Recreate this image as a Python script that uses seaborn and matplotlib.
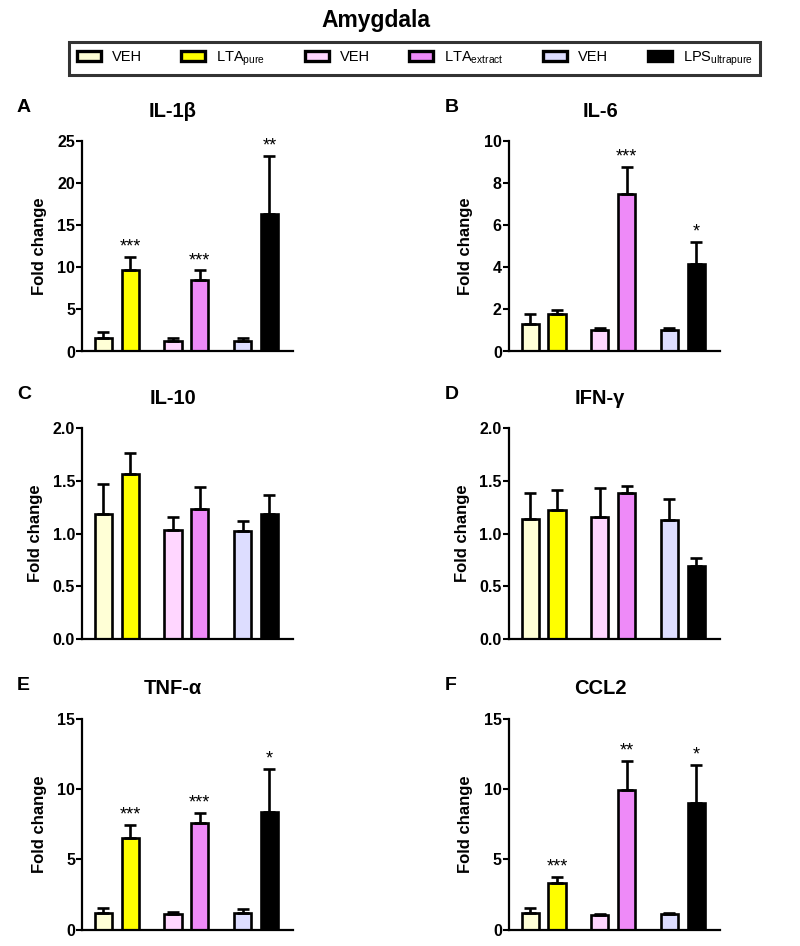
import numpy as np
import pandas as pd
import matplotlib
matplotlib.use("Agg")
import matplotlib.pyplot as plt
import seaborn as sns
from matplotlib.patches import Patch

# bar order: VEH, LTA pure, VEH, LTA extract, VEH, LPS ultrapure
conditions = ["VEH", "LTA$_{\\mathregular{pure}}$", "VEH", "LTA$_{\\mathregular{extract}}$",
              "VEH", "LPS$_{\\mathregular{ultrapure}}$"]
groups = ["pure", "pure", "extract", "extract", "ultrapure", "ultrapure"]
roles = ["VEH", "treated", "VEH", "treated", "VEH", "treated"]
colors = ["#FFFFD6", "#FFFF00", "#FFD6FF", "#EE8AF8", "#DDDDFF", "#000000"]

panels = ["A", "B", "C", "D", "E", "F"]
cytokines = ["IL-1\u03b2", "IL-6", "IL-10", "IFN-\u03b3", "TNF-\u03b1", "CCL2"]

il1b_mean = [1.58, 9.63, 1.23, 8.5, 1.23, 16.36]
il1b_sem = [0.68, 1.57, 0.43, 1.13, 0.39, 6.84]
il1b_sig = ["", "***", "", "***", "", "**"]

il6_mean = [1.32, 1.79, 1.03, 7.46, 1.03, 4.14]
il6_sem = [0.47, 0.19, 0.11, 1.29, 0.10, 1.06]
il6_sig = ["", "", "", "***", "", "*"]

il10_mean = [1.19, 1.57, 1.035, 1.23, 1.025, 1.19]
il10_sem = [0.28, 0.20, 0.125, 0.21, 0.095, 0.18]
il10_sig = ["", "", "", "", "", ""]

ifng_mean = [1.14, 1.225, 1.155, 1.384, 1.127, 0.69]
ifng_sem = [0.25, 0.19, 0.275, 0.066, 0.20, 0.08]
ifng_sig = ["", "", "", "", "", ""]

tnfa_mean = [1.21, 6.5, 1.07, 7.62, 1.16, 8.4]
tnfa_sem = [0.31, 0.93, 0.21, 0.69, 0.29, 3.02]
tnfa_sig = ["", "***", "", "***", "", "*"]

ccl2_mean = [1.21, 3.32, 1.04, 9.95, 1.07, 9.02]
ccl2_sem = [0.31, 0.41, 0.10, 2.04, 0.12, 2.73]
ccl2_sig = ["", "***", "", "**", "", "*"]

means = [il1b_mean, il6_mean, il10_mean, ifng_mean, tnfa_mean, ccl2_mean]
sems = [il1b_sem, il6_sem, il10_sem, ifng_sem, tnfa_sem, ccl2_sem]
sigs = [il1b_sig, il6_sig, il10_sig, ifng_sig, tnfa_sig, ccl2_sig]
yticks = [[0, 5, 10, 15, 20, 25], [0, 2, 4, 6, 8, 10], [0, 0.5, 1.0, 1.5, 2.0],
          [0, 0.5, 1.0, 1.5, 2.0], [0, 5, 10, 15], [0, 5, 10, 15]]

sns.set_style("ticks")
plt.rcParams["font.family"] = ["Liberation Sans", "DejaVu Sans"]
plt.rcParams["mathtext.fontset"] = "custom"
plt.rcParams["mathtext.rm"] = "Liberation Sans"
for key in ("text.color", "axes.labelcolor", "xtick.color", "ytick.color", "axes.edgecolor"):
    plt.rcParams[key] = "black"

W, H = 800, 946
fig = plt.figure(figsize=(W / 100, H / 100), dpi=100)

col_left = [82, 508.7]
row_top = [141, 428.3, 719]
ax_w, ax_h = 211, 210.5
letter_base = [112, 399, 690]
title_base = [117, 404, 694]
ylab_x = [[-35, -35.7], [-39, -38.7], [-35, -35.7]]

fig.text(376 / W, 1 - 27 / H, "Amygdala", ha="center", va="baseline",
         fontsize=16.5, fontweight="bold")

for k in range(6):
    r, c = divmod(k, 2)
    ax = fig.add_axes([col_left[c] / W, 1 - (row_top[r] + ax_h) / H, ax_w / W, ax_h / H])
    df = pd.DataFrame({"group": groups, "role": roles, "value": means[k]})
    sns.barplot(data=df, x="group", y="value", hue="role", width=0.77, gap=0.36,
                errorbar=None, legend=False, edgecolor="black", linewidth=1.9,
                ax=ax, zorder=2)
    xs = [0.0] * 6
    for h, cont in enumerate(ax.containers):
        for g, bar in enumerate(cont):
            i = 2 * g + h
            bar.set_facecolor(colors[i])
            xs[i] = bar.get_x() + bar.get_width() / 2
    m = np.array(means[k])
    e = np.array(sems[k])
    ax.errorbar(xs, m, yerr=[np.zeros(6), e], fmt="none", ecolor="black",
                elinewidth=1.9, capsize=4.3, capthick=1.9, zorder=3)
    for i in range(6):
        if sigs[k][i]:
            ax.annotate(sigs[k][i], (xs[i], m[i] + e[i]), xytext=(0, 1),
                        textcoords="offset points", ha="center", va="bottom",
                        fontsize=13)
    ax.set_xlim(-0.5, 2.53)
    ax.set_ylim(0, yticks[k][-1])
    ax.set_yticks(yticks[k])
    if k in (2, 3):
        ax.set_yticklabels([f"{t:.1f}" for t in yticks[k]])
    ax.set_xticks([])
    ax.set_xlabel("")
    ax.set_ylabel("Fold change", fontsize=12, fontweight="bold")
    ax.yaxis.set_label_coords(ylab_x[r][c] / ax_w, 0.5)
    ax.tick_params(axis="y", length=4, width=1.5, labelsize=11.5, pad=1)
    for t in ax.get_yticklabels():
        t.set_fontweight("bold")
    sns.despine(ax=ax)
    for s in ("left", "bottom"):
        ax.spines[s].set_linewidth(1.6)
    ax.set_facecolor("none")

    lx = 17 if c == 0 else 445
    fig.text(lx / W, 1 - letter_base[r] / H, panels[k], ha="left", va="baseline",
             fontsize=14, fontweight="bold")
    tx = 173 if c == 0 else 600
    fig.text(tx / W, 1 - title_base[r] / H, cytokines[k], ha="center", va="baseline",
             fontsize=14.5, fontweight="bold")

handles = [Patch(facecolor=colors[i], edgecolor="black", linewidth=2.4) for i in range(6)]
leg = fig.legend(handles, conditions, loc="center", bbox_to_anchor=(414.5 / W, 1 - 58.5 / H),
                 ncol=6, fontsize=10.5, frameon=True, fancybox=False, handlelength=1.65,
                 handleheight=0.75, handletextpad=0.75, columnspacing=2.7,
                 borderpad=0.5)
leg.get_frame().set_edgecolor("black")
leg.get_frame().set_linewidth(2.2)

fig.savefig("out.png", dpi=100)
